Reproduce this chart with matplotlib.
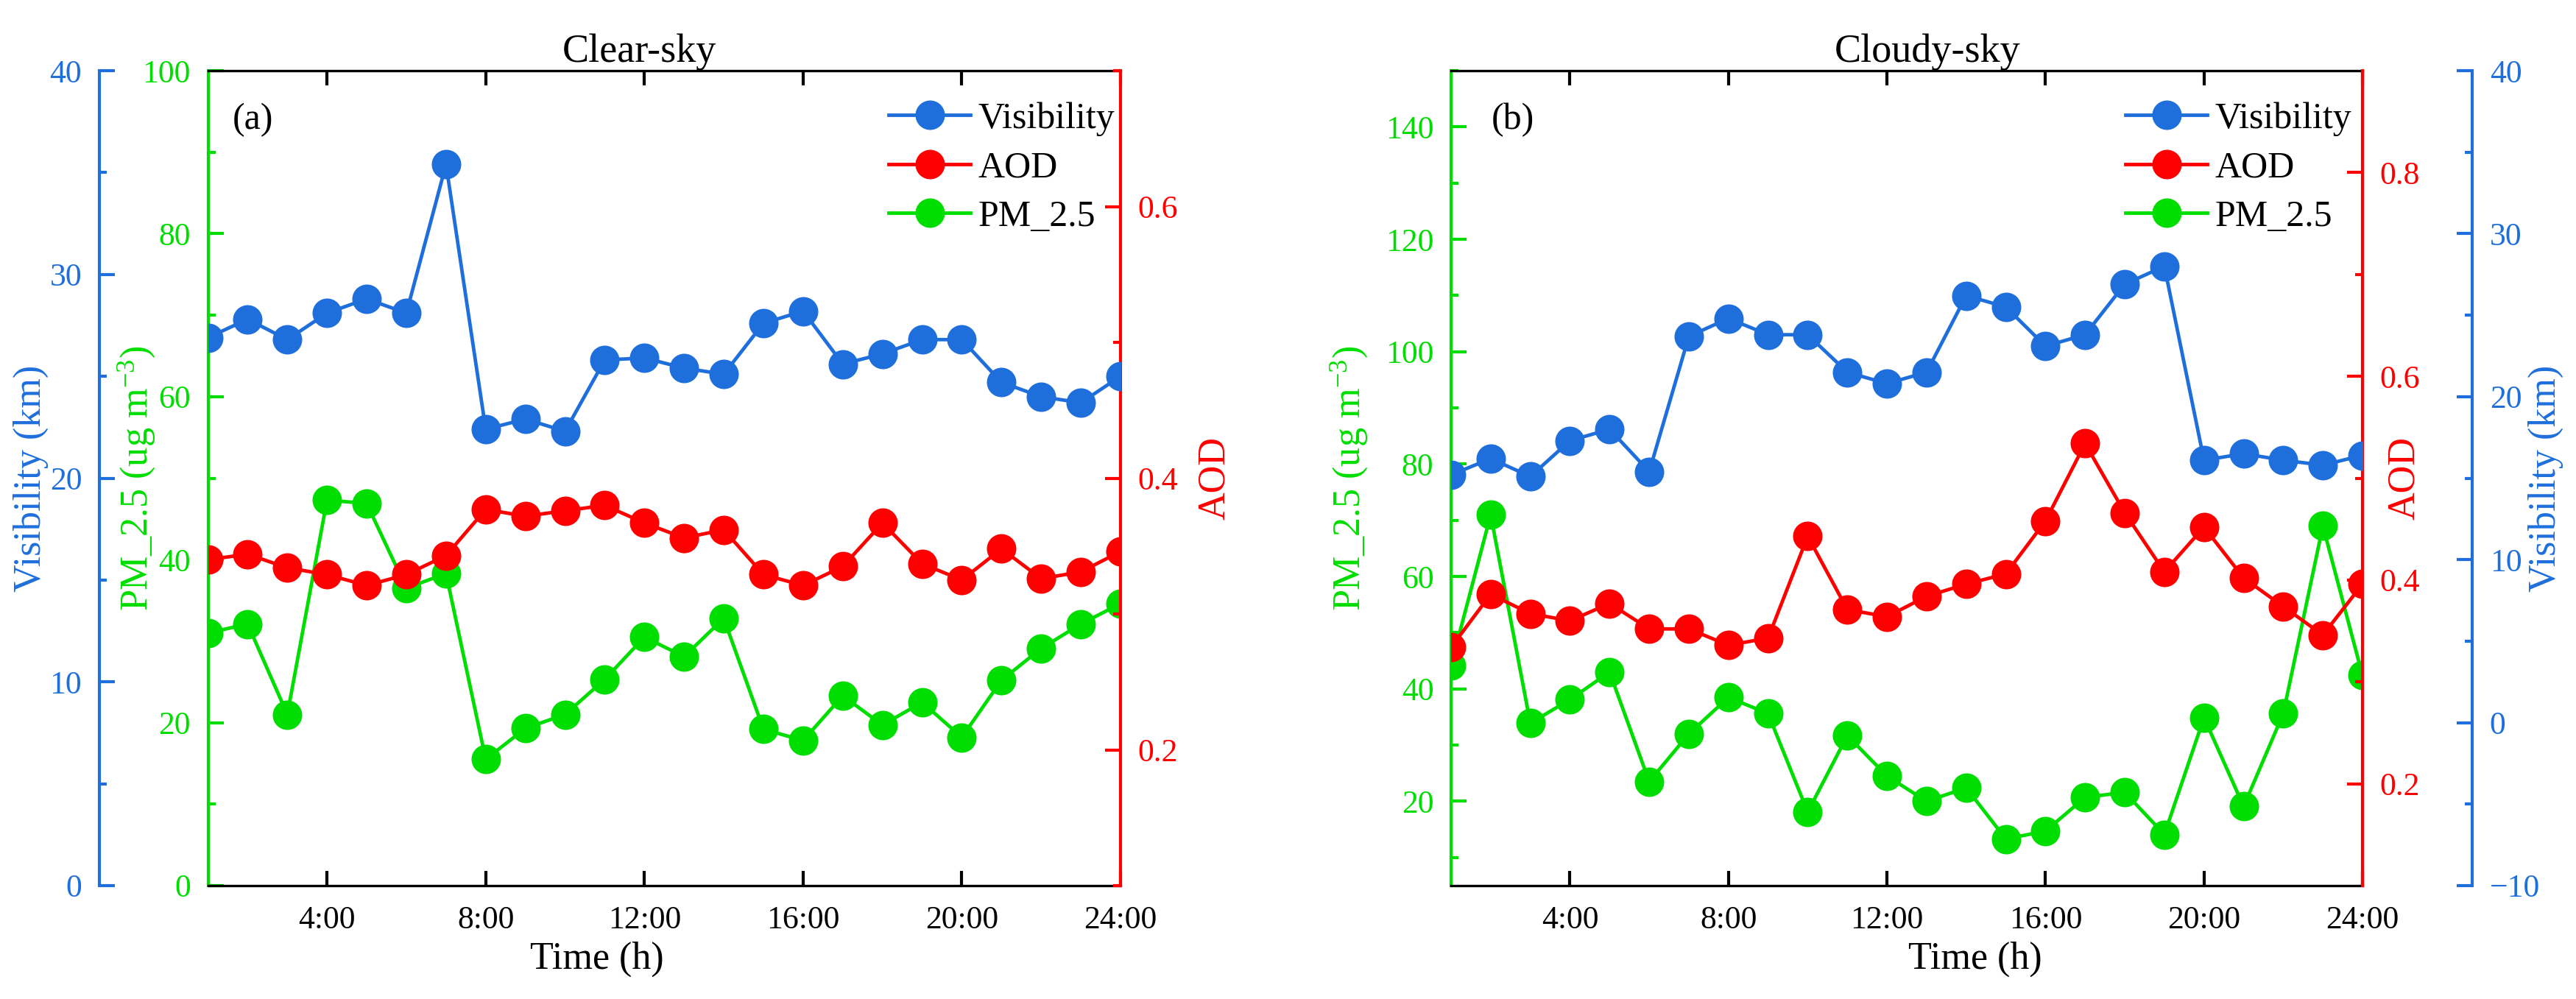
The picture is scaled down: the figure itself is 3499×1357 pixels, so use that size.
import matplotlib
matplotlib.use('Agg')
import matplotlib.pyplot as plt
from matplotlib.ticker import FixedLocator

plt.rcParams['font.family'] = ['Liberation Serif', 'DejaVu Serif']
plt.rcParams['mathtext.fontset'] = 'custom'
plt.rcParams['mathtext.rm'] = 'Liberation Serif'
plt.rcParams['mathtext.it'] = 'Liberation Serif:italic'
plt.rcParams['mathtext.default'] = 'regular'

# ---------------- data ----------------
hours = list(range(1, 25))
time_ticks = [4, 8, 12, 16, 20, 24]
time_labels = ['4:00', '8:00', '12:00', '16:00', '20:00', '24:00']

clear_vis = [26.9, 27.8, 26.8, 28.1, 28.8, 28.1, 35.4, 22.4, 22.9, 22.3, 25.8, 25.9,
             25.4, 25.1, 27.6, 28.2, 25.6, 26.1, 26.8, 26.8, 24.7, 24.0, 23.7, 25.0]
clear_aod = [0.340, 0.344, 0.334, 0.329, 0.321, 0.329, 0.343, 0.377, 0.372, 0.376, 0.380, 0.367,
             0.356, 0.362, 0.329, 0.321, 0.335, 0.367, 0.337, 0.325, 0.348, 0.326, 0.331, 0.346]
clear_pm = [31.0, 32.1, 21.0, 47.3, 46.9, 36.5, 38.3, 15.5, 19.3, 21.0, 25.3, 30.5,
            28.1, 32.8, 19.2, 17.8, 23.3, 19.7, 22.5, 18.2, 25.2, 29.1, 32.1, 34.6]

cloudy_vis = [15.2, 16.2, 15.1, 17.3, 18.0, 15.4, 23.7, 24.8, 23.8, 23.8, 21.5, 20.8,
              21.5, 26.2, 25.5, 23.1, 23.8, 26.9, 28.0, 16.1, 16.5, 16.1, 15.8, 16.4]
cloudy_aod = [0.334, 0.386, 0.367, 0.360, 0.377, 0.352, 0.352, 0.336, 0.343, 0.443, 0.371, 0.364,
              0.384, 0.396, 0.406, 0.458, 0.534, 0.466, 0.408, 0.452, 0.402, 0.374, 0.346, 0.396]
cloudy_pm = [44.2, 71.0, 33.9, 38.1, 43.0, 23.5, 32.0, 38.5, 35.6, 18.1, 31.7, 24.5,
             20.0, 22.4, 13.3, 14.7, 20.7, 21.6, 14.1, 34.9, 19.1, 35.6, 69.0, 42.4]

series_names = ['Visibility', 'AOD', 'PM_2.5']

# ---------------- style ----------------
BLUE = '#1E6FDC'
RED = '#FF0000'
GREEN = '#00DD00'
TICK_FS = 10.5
LABEL_FS = 12.5
LW = 1.15
MS = 8.6

fig = plt.figure(figsize=(3499 / 300, 1357 / 300), dpi=300)


def style_y(ax, color, major, minor, side):
    ax.yaxis.set_major_locator(FixedLocator(major))
    ax.yaxis.set_minor_locator(FixedLocator(minor))
    ax.tick_params(axis='y', which='major', direction='in', length=5.0, width=1.0,
                   colors=color, labelsize=TICK_FS, pad=5.7)
    ax.tick_params(axis='y', which='minor', direction='in', length=2.5, width=1.0,
                   colors=color)
    ax.spines[side].set_color(color)
    ax.spines[side].set_linewidth(1.0)


def panel(rect, vis, aod, pm, cfg):
    ax = fig.add_axes(rect)
    ax_aod = ax.twinx()
    ax_vis = ax.twinx()

    # host: PM2.5 (left, green)
    l_pm, = ax.plot(hours, pm, '-o', color=GREEN, lw=LW, ms=MS, label=series_names[2])
    ax.set_xlim(1, 24)
    ax.set_ylim(*cfg['pm_lim'])
    ax.set_xticks(time_ticks)
    ax.set_xticklabels(time_labels)
    ax.tick_params(axis='x', which='major', direction='in', length=4.8, width=1.0,
                   top=True, bottom=True, labelsize=TICK_FS, pad=6.5, colors='black')
    style_y(ax, GREEN, cfg['pm_major'], cfg['pm_minor'], 'left')
    ax.spines['right'].set_visible(False)
    for s in ('top', 'bottom'):
        ax.spines[s].set_linewidth(0.8)
        ax.spines[s].set_color('black')
    ax.set_ylabel('PM_2.5 (ug m$^{-3}$)', color=GREEN, fontsize=LABEL_FS)
    ax.yaxis.set_label_coords(cfg['pm_label_x'], 0.5)
    ax.set_xlabel('Time (h)', fontsize=LABEL_FS)
    ax.xaxis.set_label_coords(cfg['xlabel_x'], -0.068)
    ax.set_title(cfg['title'], x=cfg['title_x'], pad=2.5, fontsize=13)
    ax.text(cfg['tag_x'], 0.94, cfg['tag'], transform=ax.transAxes, ha='left',
            va='center', fontsize=12)

    # AOD (right, red)
    l_aod, = ax_aod.plot(hours, aod, '-o', color=RED, lw=LW, ms=MS, label=series_names[1])
    ax_aod.set_ylim(*cfg['aod_lim'])
    style_y(ax_aod, RED, cfg['aod_major'], cfg['aod_minor'], 'right')
    for s in ('left', 'top', 'bottom'):
        ax_aod.spines[s].set_visible(False)
    ax_aod.set_ylabel('AOD', color=RED, fontsize=LABEL_FS)
    ax_aod.yaxis.set_label_coords(cfg['aod_label_x'], 0.5)

    # Visibility (offset, blue)
    side = cfg['vis_side']
    l_vis, = ax_vis.plot(hours, vis, '-o', color=BLUE, lw=LW, ms=MS, label=series_names[0])
    ax_vis.set_ylim(*cfg['vis_lim'])
    if side == 'left':
        ax_vis.yaxis.set_ticks_position('left')
        ax_vis.yaxis.set_label_position('left')
    for s in ('left', 'right', 'top', 'bottom'):
        if s != side:
            ax_vis.spines[s].set_visible(False)
    ax_vis.spines[side].set_position(('axes', cfg['vis_offset']))
    style_y(ax_vis, BLUE, cfg['vis_major'], cfg['vis_minor'], side)
    ax_vis.set_ylabel('Visibility (km)', color=BLUE, fontsize=LABEL_FS)
    ax_vis.yaxis.set_label_coords(cfg['vis_label_x'], 0.5)

    ax_vis.legend(handles=[l_vis, l_aod, l_pm], loc='upper left',
                  bbox_to_anchor=(cfg['leg_x'], 0.962), frameon=False, fontsize=12,
                  handlelength=2.22, handletextpad=0.21, labelspacing=0.4,
                  borderpad=0, borderaxespad=0, numpoints=1)


left_cfg = dict(
    pm_lim=(0, 100), pm_major=[0, 20, 40, 60, 80, 100], pm_minor=[10, 30, 50, 70, 90],
    aod_lim=(0.1, 0.7), aod_major=[0.2, 0.4, 0.6], aod_minor=[0.1, 0.3, 0.5, 0.7],
    vis_lim=(0, 40), vis_major=[0, 10, 20, 30, 40], vis_minor=[5, 15, 25, 35],
    vis_side='left', vis_offset=-0.119,
    pm_label_x=-0.056, aod_label_x=1.084, vis_label_x=-0.1747,
    xlabel_x=0.426, title='Clear-sky', title_x=0.473, tag='(a)', tag_x=0.027,
    leg_x=0.746,
)
right_cfg = dict(
    pm_lim=(5, 150), pm_major=[20, 40, 60, 80, 100, 120, 140],
    pm_minor=[10, 30, 50, 70, 90, 110, 130, 150],
    aod_lim=(0.1, 0.9), aod_major=[0.2, 0.4, 0.6, 0.8], aod_minor=[0.3, 0.5, 0.7],
    vis_lim=(-10, 40), vis_major=[-10, 0, 10, 20, 30, 40], vis_minor=[-5, 5, 15, 25, 35],
    vis_side='right', vis_offset=1.1204,
    pm_label_x=-0.0897, aod_label_x=1.0267, vis_label_x=1.1818,
    xlabel_x=0.575, title='Cloudy-sky', title_x=0.5226, tag='(b)', tag_x=0.044,
    leg_x=0.740,
)

panel([282.5 / 3499, 154 / 1357, 1239.5 / 3499, 1107 / 1357],
      clear_vis, clear_aod, clear_pm, left_cfg)
panel([1971 / 3499, 154 / 1357, 1238 / 3499, 1107 / 1357],
      cloudy_vis, cloudy_aod, cloudy_pm, right_cfg)

fig.savefig('out.png', dpi=300)
